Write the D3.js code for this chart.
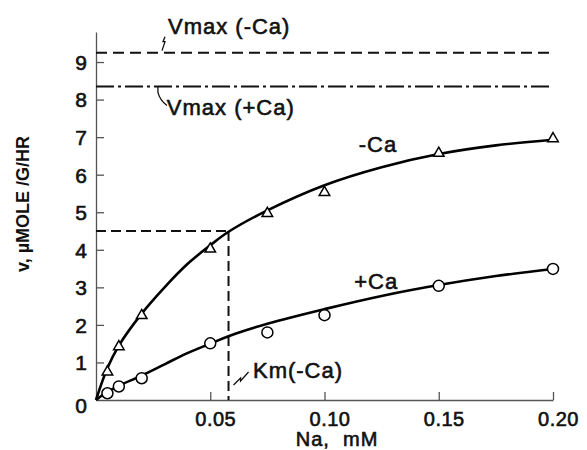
<!DOCTYPE html>
<html>
<head>
<meta charset="utf-8">
<script src="https://cdn.jsdelivr.net/npm/d3@7"></script>
<style>
  body { margin: 0; background: #fff; }
  text { font-family: "Liberation Sans", Arial, sans-serif; fill: #111; }
</style>
</head>
<body>
<div id="chart"></div>
<script>
// measured points (Na concentration, mM)
var naConc = [0.005, 0.01, 0.02, 0.05, 0.075, 0.10, 0.15, 0.20];
var vMinusCa = [0.75, 1.42, 2.25, 4.02, 4.97, 5.53, 6.57, 6.96];
var vPlusCa = [0.18, 0.36, 0.58, 1.51, 1.80, 2.26, 3.04, 3.49];

// hand-drawn curves
var curveNa = [0, 0.005, 0.01, 0.02, 0.03, 0.04, 0.05, 0.058, 0.075, 0.10, 0.125, 0.15, 0.175, 0.20];
var curveMinusCa = [0, 0.85, 1.45, 2.3, 3.0, 3.62, 4.12, 4.48, 5.05, 5.72, 6.2, 6.55, 6.78, 6.93];
var curvePlusCa = [0, 0.22, 0.38, 0.65, 0.95, 1.25, 1.5, 1.7, 2.03, 2.42, 2.77, 3.06, 3.3, 3.49];

// reference values
var vmaxMinusCa = 9.25;
var vmaxPlusCa = 8.35;
var kmMinusCa = 0.058;
var halfV = 4.5;

var xTicks = [0.05, 0.10, 0.15, 0.20];
var xTickLabels = ["0.05", "0.10", "0.15", "0.20"];
var yTicks = [0, 1, 2, 3, 4, 5, 6, 7, 8, 9];

var width = 587, height = 450;

var x = d3.scaleLinear().domain([0, 0.2]).range([96, 553]);
var y = d3.scaleLinear().domain([0, 9.8]).range([400, 32]);

var svg = d3.select('#chart')
  .append('svg')
  .attr('width', width)
  .attr('height', height);

// axes
var yAxis = svg.append('g')
  .attr('transform', 'translate(' + x(0) + ',0)')
  .call(d3.axisLeft(y).tickValues(yTicks).tickSizeInner(-8).tickSizeOuter(0).tickPadding(9)
    .tickFormat(function(d) { return d3.format('d')(d); }));
yAxis.selectAll('.tick line').filter(function(d) { return d === 0; }).remove();
yAxis.selectAll('text')
  .attr('font-size', 21)
  .attr('dy', function(d) { return d === 0 ? '0.6em' : '0.35em'; })
  .attr('stroke', '#111').attr('stroke-width', 0.6);

var xAxis = svg.append('g')
  .attr('transform', 'translate(0,' + y(0) + ')')
  .call(d3.axisBottom(x).tickValues(xTicks).tickSizeInner(-8).tickSizeOuter(0).tickPadding(12)
    .tickFormat(function(d, i) { return xTickLabels[i]; }));
xAxis.selectAll('text')
  .attr('font-size', 20)
  .attr('dx', 5)
  .attr('letter-spacing', 0.5)
  .attr('stroke', '#111').attr('stroke-width', 0.6);

svg.selectAll('.domain, .tick line')
  .attr('stroke', '#555')
  .attr('stroke-width', 1.3);

// Vmax reference lines
svg.append('line')
  .attr('x1', x(0)).attr('x2', x(0.2))
  .attr('y1', y(vmaxMinusCa)).attr('y2', y(vmaxMinusCa))
  .attr('stroke', '#111').attr('stroke-width', 2)
  .attr('stroke-dasharray', '11,6');

svg.append('line')
  .attr('x1', x(0)).attr('x2', x(0.2))
  .attr('y1', y(vmaxPlusCa)).attr('y2', y(vmaxPlusCa))
  .attr('stroke', '#111').attr('stroke-width', 2)
  .attr('stroke-dasharray', '18,4,3,4');

// Km construction lines
svg.append('line')
  .attr('x1', x(0)).attr('x2', x(kmMinusCa))
  .attr('y1', y(halfV)).attr('y2', y(halfV))
  .attr('stroke', '#111').attr('stroke-width', 2)
  .attr('stroke-dasharray', '10,5');

svg.append('line')
  .attr('x1', x(kmMinusCa)).attr('x2', x(kmMinusCa))
  .attr('y1', y(halfV)).attr('y2', y(0))
  .attr('stroke', '#111').attr('stroke-width', 2)
  .attr('stroke-dasharray', '10,5');

// curves
var line = d3.line()
  .x(function(d) { return x(d[0]); })
  .y(function(d) { return y(d[1]); })
  .curve(d3.curveCatmullRom.alpha(0.5));

svg.append('path')
  .attr('d', line(d3.zip(curveNa, curveMinusCa)))
  .attr('fill', 'none').attr('stroke', '#000').attr('stroke-width', 2.6);

svg.append('path')
  .attr('d', line(d3.zip(curveNa, curvePlusCa)))
  .attr('fill', 'none').attr('stroke', '#000').attr('stroke-width', 2.6);

// markers
svg.selectAll('path.tri')
  .data(d3.zip(naConc, vMinusCa))
  .enter()
  .append('path')
  .attr('class', 'tri')
  .attr('d', d3.symbol(d3.symbolTriangle).size(48))
  .attr('transform', function(d) { return 'translate(' + x(d[0]) + ',' + y(d[1]) + ')'; })
  .attr('fill', '#fff').attr('stroke', '#000').attr('stroke-width', 1.5);

svg.selectAll('circle.pt')
  .data(d3.zip(naConc, vPlusCa))
  .enter()
  .append('circle')
  .attr('class', 'pt')
  .attr('cx', function(d) { return x(d[0]); })
  .attr('cy', function(d) { return y(d[1]); })
  .attr('r', 5.5)
  .attr('fill', '#fff').attr('stroke', '#000').attr('stroke-width', 1.5);

// annotations
function label(txt, xv, yv, size) {
  return svg.append('text')
    .attr('x', x(xv)).attr('y', y(yv))
    .attr('font-size', size)
    .attr('letter-spacing', 1)
    .attr('stroke', '#111').attr('stroke-width', 0.6)
    .text(txt);
}
label('Vmax (-Ca)', 0.0315, 9.75, 22);
label('Vmax (+Ca)', 0.031, 7.58, 22);
label('-Ca', 0.115, 6.6, 22);
label('+Ca', 0.113, 2.96, 22);
label('Km(-Ca)', 0.0687, 0.59, 22);

// leader squiggles
var leader = svg.append('g').attr('fill', 'none').attr('stroke', '#111').attr('stroke-width', 1.3);
leader.append('path')
  .attr('d', 'M' + (x(0.0302)) + ',' + (y(vmaxMinusCa) - 16) + ' l-2,5 l2,0 l-3,9');
leader.append('path')
  .attr('d', 'M' + (x(0.0271)) + ',' + (y(vmaxPlusCa)) + ' l0,6 q2,8 9,13');
leader.append('path')
  .attr('d', 'M' + (x(kmMinusCa) + 5) + ',' + (y(0) - 15) + ' l7,-7 l0,3 l8,-9');

// axis titles
svg.append('text')
  .attr('x', x(0.1055)).attr('y', 446)
  .attr('text-anchor', 'middle')
  .attr('font-size', 20)
  .attr('letter-spacing', 1)
  .attr('stroke', '#111').attr('stroke-width', 0.6)
  .attr('xml:space', 'preserve')
  .style('white-space', 'pre')
  .text('Na,  mM');

svg.append('text')
  .attr('transform', 'translate(29,204) rotate(-90)')
  .attr('text-anchor', 'middle')
  .attr('font-size', 18)
  .attr('font-weight', 'bold')
  .text('v, µMOLE /G/HR');
</script>
</body>
</html>
